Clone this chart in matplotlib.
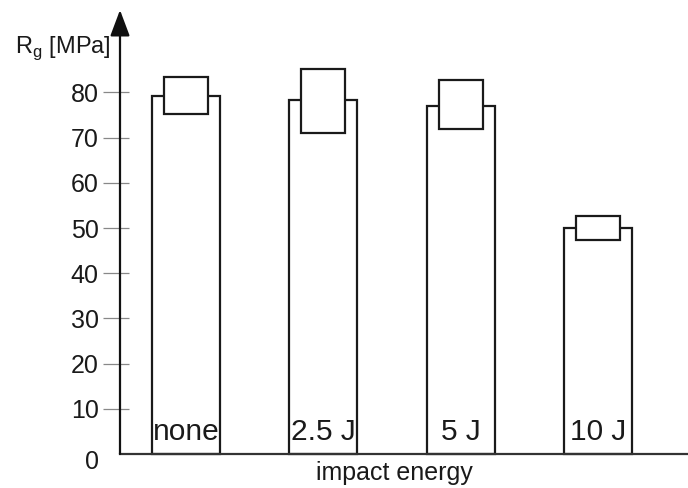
import matplotlib
matplotlib.use("Agg")
import matplotlib.pyplot as plt
import matplotlib.transforms as mtransforms
import numpy as np

plt.rcParams['font.family'] = ['Liberation Sans', 'DejaVu Sans']
plt.rcParams['mathtext.fontset'] = 'custom'
plt.rcParams['mathtext.rm'] = 'Liberation Sans'

# ---- data ----
categories = ["none", "2.5 J", "5 J", "10 J"]
mean_values = [79.1, 78.3, 77.1, 50.1]
upper_values = [83.4, 85.2, 82.7, 52.7]
lower_values = [75.3, 71.0, 71.9, 47.3]
ytick_values = [0, 10, 20, 30, 40, 50, 60, 70, 80]
ytick_labels = ["0", "10", "20", "30", "40", "50", "60", "70", "80"]
ylabel_text = "R$_\\mathregular{g}$ [MPa]"
xlabel_text = "impact energy"

W, H = 688, 488
fig = plt.figure(figsize=(W / 100, H / 100), dpi=100)
ax_left_px, ax_right_px = 120, 688
ax_bottom_px, ax_top_px = 454, 10
ax = fig.add_axes([ax_left_px / W, (H - ax_bottom_px) / H,
                   (ax_right_px - ax_left_px) / W, (ax_bottom_px - ax_top_px) / H])

x = np.arange(len(categories))
spacing_px = 137.33
first_center_px = 186
ax.set_xlim((ax_left_px - first_center_px) / spacing_px,
            (ax_right_px - first_center_px) / spacing_px)
px_per_unit = 45.2 / 10
ax.set_ylim(0, (ax_bottom_px - ax_top_px) / px_per_unit)

edge = '#1a1a1a'
bar_w = 68 / spacing_px
box_w = 44 / spacing_px
ax.bar(x, mean_values, width=bar_w, facecolor='white', edgecolor=edge,
       linewidth=1.6, zorder=2, clip_on=False)
heights = np.array(upper_values) - np.array(lower_values)
ax.bar(x, heights, bottom=lower_values, width=box_w, facecolor='white',
       edgecolor=edge, linewidth=1.6, zorder=3)

for xi, lab in zip(x, categories):
    ax.text(xi, 3.1, lab, ha='center', va='baseline', fontsize=21.5,
            color='#1a1a1a', zorder=4)

# spines
for s in ['top', 'right', 'left']:
    ax.spines[s].set_visible(False)
ax.spines['bottom'].set_color('#333333')
ax.spines['bottom'].set_linewidth(1.6)
ax.set_xticks([])

# y axis with arrow
ax.annotate('', xy=(0, 1.0), xytext=(0, 0), xycoords='axes fraction',
            arrowprops=dict(arrowstyle='-|>,head_length=0.8,head_width=0.3',
                            mutation_scale=20, color='#111111', lw=1.6,
                            shrinkA=0, shrinkB=0), zorder=5)

# ticks (outward part via axis ticks, inward part drawn)
ax.set_yticks(ytick_values[1:])
ax.set_yticklabels(ytick_labels[1:], fontsize=18, color='#1a1a1a')
ax.tick_params(axis='y', direction='out', length=17 * 0.72, width=0.9,
               color='#888888', pad=3)
inner = mtransforms.blended_transform_factory(ax.transAxes, ax.transData)
ax.hlines(ytick_values[1:], 0, 9 / (ax_right_px - ax_left_px),
          transform=inner, colors='#888888', linewidth=0.9, zorder=1)
off = mtransforms.ScaledTranslation(-(17 + 4) / 100, -8 / 100, fig.dpi_scale_trans)
ax.text(0, ytick_values[0], ytick_labels[0], transform=inner + off,
        ha='right', va='center', fontsize=18, color='#1a1a1a')

fig.text(15 / W, 1 - 53 / H, ylabel_text, ha='left', va='baseline',
         fontsize=17, color='#1a1a1a')
fig.text(394 / W, 1 - 480 / H, xlabel_text, ha='center', va='baseline',
         fontsize=18, color='#1a1a1a')

fig.savefig('out.png', dpi=100)
